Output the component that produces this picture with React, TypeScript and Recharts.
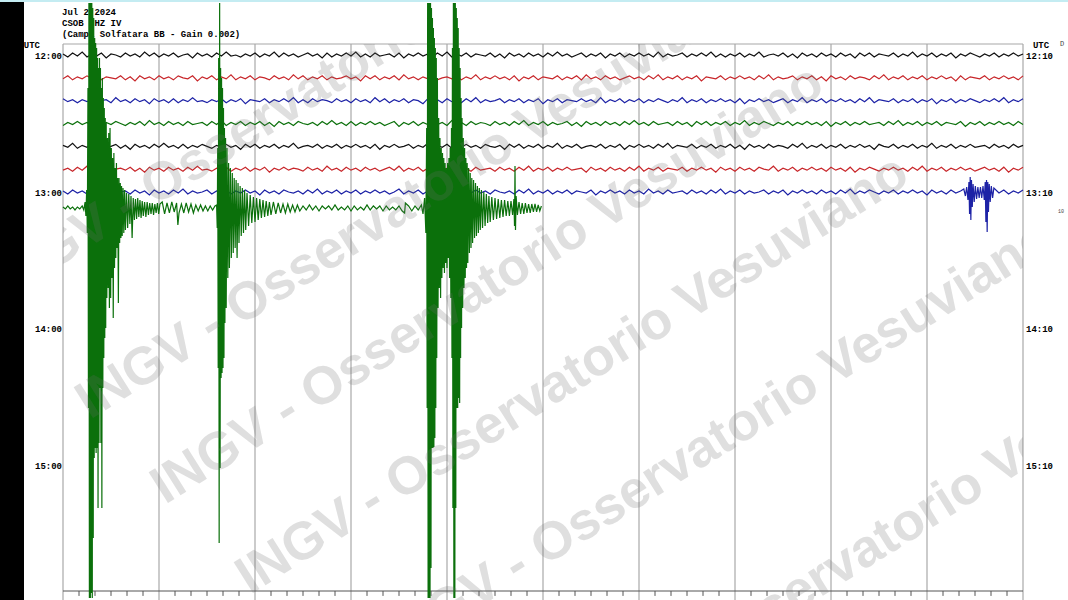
import React from "react";
import { LineChart, Line, XAxis, YAxis, ReferenceLine } from "recharts";

const W = 1068;
const H = 600;
const PX_PER_ROW = 22.833; // vertical gap between two 10-minute traces
const Y_DOMAIN: [number, number] = [-2.409, 23.869];
const NOISE_STEP = 3; // seconds between noise samples

const LABEL_ROWS = [0, 6, 12, 18];
const LEFT_LABELS = ["12:00", "13:00", "14:00", "15:00"];
const RIGHT_LABELS = ["12:10", "13:10", "14:10", "15:10"];
const HEADER = ["Jul 2 2024", "CSOB HHZ IV", "(Campi Solfatara BB - Gain 0.002)"];
const MINUTES = [0, 60, 120, 180, 240, 300, 360, 420, 480, 540, 600];
const ROW_BASE = [0, 1, 2, 3, 4, 5, 6, 6.7];
const ROW_COLORS = ["#111111", "#c8262a", "#1d22a6", "#0b700b", "#111111", "#c8262a", "#1d22a6", "#0b700b"];

// background noise for each full 10-minute trace, one sample every 3 s (amplitude, px up)
const ROW0 = [
  1, -2, 2, -1, 3, -2, 1, -1, 2, -3, 1, 0, -2, 2, -1, 1, -2, 3, -1, 2,
  -2, 1, -1, 2, -2, 0, 1, -3, 2, -1, 1, -2, 2, -1, 3, -1, 0, -2, 1, -1,
  2, -2, 1, -1, 3, -2, 2, -1, 1, -2, 0, 2, -1, 1, -3, 2, -2, 1, -1, 2,
  -1, 3, -2, 1, -2, 2, -1, 0, 1, -2, 2, -3, 1, -1, 2, -1, 1, -2, 2, -1,
  3, -2, 1, -1, 2, -2, 1, 0, -1, 2, -2, 1, -3, 2, -1, 1, -2, 2, -1, 1,
  -2, 2, -1, 3, -1, 1, -2, 0, 2, -2, 1, -1, 2, -3, 1, -1, 2, -2, 1, -1,
  2, -1, 1, -2, 3, -2, 1, -1, 0, 2, -2, 1, -1, 2, -1, 3, -2, 1, -2, 1,
  -1, 2, -2, 1, -1, 3, -2, 0, 1, -1, 2, -2, 1, -3, 2, -1, 1, -2, 2, -1,
  1, -2, 2, -1, 1, -3, 2, -1, 2, -2, 1, 0, -1, 2, -2, 1, -1, 3, -2, 1,
  -1, 2, -2, 1, -1, 2, -3, 1, -1, 2, 0, -2, 1, -1, 2, -2, 1, -1, 2, -1,
  1,
];
const ROW1 = [
  -1, 2, -2, 1, -1, 2, -1, 3, -2, 1, 0, -1, 2, -2, 1, -3, 2, -1, 1, -2,
  2, -1, 1, -2, 2, 0, -1, 2, -3, 1, -1, 2, -2, 1, -1, 3, -2, 1, -1, 2,
  -2, 1, 0, -2, 2, -1, 1, -2, 3, -1, 2, -2, 1, -1, 2, -2, 1, -1, 0, 2,
  -1, 1, -3, 2, -1, 2, -2, 1, -1, 2, -2, 3, -1, 1, -2, 1, -1, 2, -2, 0,
  1, -1, 2, -2, 1, -1, 3, -2, 1, -1, 2, -1, 1, -2, 2, -3, 1, -1, 2, -2,
  1, 0, -1, 2, -2, 1, -1, 2, -2, 3, -1, 1, -2, 2, -1, 1, -2, 0, 2, -1,
  1, -2, 2, -1, 3, -2, 1, -1, 2, -2, 1, -1, 2, -3, 1, 0, -1, 2, -2, 1,
  -1, 2, -1, 1, -2, 2, -1, 3, -2, 1, -1, 0, 2, -2, 1, -1, 2, -2, 1, -3,
  2, -1, 1, -2, 2, -1, 1, 0, -2, 2, -1, 3, -2, 1, -1, 2, -2, 1, -1, 2,
  -2, 1, -1, 2, -1, 1, -3, 2, -2, 1, 0, -1, 2, -2, 1, -1, 2, -1, 1, -2,
  2,
];
const ROW2 = [
  2, -1, 1, -2, 1, -1, 2, -2, 0, 1, -2, 3, -1, 1, -2, 2, -1, 1, -3, 2,
  -1, 1, -2, 2, -2, 1, -1, 3, -1, 0, -2, 1, -1, 2, -2, 1, -1, 2, -3, 1,
  0, -1, 2, -2, 1, -1, 2, -1, 3, -2, 1, -2, 2, -1, 1, 0, -2, 2, -1, 1,
  -2, 2, -1, 1, -2, 3, -1, 2, -2, 1, -1, 2, -2, 1, 0, -3, 2, -1, 1, -2,
  2, -1, 1, -2, 2, -1, 3, -2, 1, -1, 0, 2, -2, 1, -1, 2, -2, 1, -1, 2,
  -3, 1, -1, 2, -2, 1, 0, -1, 2, -1, 1, -2, 3, -2, 1, -1, 2, -2, 1, -1,
  2, -2, 1, -1, 2, 0, -2, 1, -1, 3, -2, 1, -1, 2, -2, 1, -1, 2, -1, 1,
  -2, 2, -3, 1, -1, 2, -1, 1, -2, 0, 2, -2, 1, -1, 3, -2, 1, -1, 2, -2,
  1, -1, 2, -1, 1, -2, 2, -1, 3, -2, 1, 0, -1, 2, -2, 1, -1, 2, -2, 1,
  -1, 2, -3, 1, -1, 2, -2, 1, -1, 2, 0, -2, 1, -1, 2, -1, 3, -2, 1, -1,
  2,
];
const ROW3 = [
  -2, 1, -1, 2, -1, 1, -2, 2, -3, 1, -1, 2, 0, -2, 1, -1, 2, -2, 3, -1,
  1, -2, 2, -1, 1, -2, 2, -1, 0, 1, -2, 2, -1, 3, -2, 1, -1, 2, -2, 1,
  -1, 2, -2, 1, -3, 2, -1, 1, -2, 2, 0, -1, 1, -2, 2, -1, 3, -1, 1, -2,
  2, -2, 1, -1, 2, -1, 1, -2, 0, 2, -3, 1, -1, 2, -2, 1, -1, 2, -1, 1,
  -2, 3, -1, 1, -2, 2, -1, 1, 0, -2, 2, -1, 1, -2, 2, -1, 3, -2, 1, -1,
  2, -2, 1, -1, 0, 2, -2, 1, -3, 2, -1, 1, -2, 2, -1, 1, -2, 2, -1, 3,
  -1, 1, -2, 2, -1, 0, 1, -2, 2, -1, 1, -3, 2, -1, 2, -2, 1, -1, 2, -2,
  1, -1, 3, -2, 1, -1, 2, 0, -2, 1, -1, 2, -2, 1, -1, 2, -1, 1, -2, 2,
  -3, 1, -1, 2, -2, 1, -1, 2, -1, 0, 1, -2, 2, -1, 3, -2, 1, -1, 2, -2,
  1, -1, 2, -2, 1, 0, -1, 2, -3, 1, -1, 2, -2, 1, -1, 2, -1, 1, -2, 2,
  -1,
];
const ROW4 = [
  1, -1, 3, -2, 1, -1, 2, -2, 1, -1, 0, 2, -2, 1, -3, 2, -1, 1, -2, 2,
  -1, 3, -1, 1, -2, 2, -2, 1, -1, 2, 0, -2, 1, -1, 2, -1, 1, -3, 2, -1,
  2, -2, 1, -1, 2, -2, 1, -1, 3, -2, 0, 1, -1, 2, -2, 1, -1, 2, -2, 1,
  -1, 2, -1, 1, -2, 2, -3, 1, -1, 2, -1, 0, 2, -2, 1, -1, 3, -2, 1, -1,
  2, -2, 1, -1, 2, -1, 1, -2, 2, 0, -1, 1, -3, 2, -1, 2, -2, 1, -1, 2,
  -2, 1, -1, 3, -2, 1, -1, 2, -2, 0, 1, -1, 2, -2, 1, -1, 2, -3, 1, -1,
  2, -1, 1, -2, 2, -1, 3, -2, 1, 0, -1, 2, -2, 1, -1, 2, -2, 1, -1, 2,
  -2, 1, -3, 2, -1, 1, -2, 2, -1, 1, 0, -2, 2, -1, 3, -2, 1, -1, 2, -2,
  1, -1, 2, -2, 1, -1, 2, -1, 1, -3, 2, 0, -1, 2, -2, 1, -1, 2, -2, 1,
  -1, 3, -2, 1, -1, 2, -2, 1, -1, 2, -1, 0, 1, -2, 2, -1, 1, -2, 2, -1,
  1,
];
const ROW5 = [
  -1, 1, -2, 2, -1, 3, -2, 1, -1, 2, -2, 0, 1, -1, 2, -2, 1, -3, 2, -1,
  1, -2, 2, -1, 1, -2, 2, -1, 3, -1, 0, -2, 1, -1, 2, -2, 1, -1, 2, -2,
  1, -1, 2, -3, 1, -1, 2, -1, 1, 0, -2, 2, -1, 1, -2, 3, -1, 1, -2, 2,
  -1, 1, -2, 2, -1, 1, -2, 0, 2, -1, 3, -2, 1, -1, 2, -2, 1, -1, 2, -2,
  1, -3, 2, -1, 1, -2, 2, -1, 0, 1, -2, 2, -1, 1, -2, 2, -1, 3, -2, 1,
  -1, 2, -2, 1, -1, 2, -1, 0, 1, -3, 2, -1, 1, -2, 2, -1, 1, -2, 2, -1,
  3, -2, 1, -1, 2, -2, 1, 0, -1, 2, -2, 1, -1, 2, -1, 1, -3, 2, -1, 1,
  -2, 2, -1, 1, -2, 2, 0, -1, 3, -2, 1, -1, 2, -2, 1, -1, 2, -1, 1, -2,
  2, -1, 1, -2, 2, -3, 1, -1, 2, 0, -2, 1, -1, 2, -1, 1, -2, 2, -1, 3,
  -2, 1, -1, 2, -2, 1, -1, 2, -1, 1, -2, 0, 2, -1, 1, -2, 2, -3, 1, -1,
  2,
];
const ROW6 = [
  1, -2, 2, -1, 1, -2, 3, -1, 1, -2, 2, -1, 0, 1, -2, 2, -1, 1, -3, 2,
  -1, 1, -2, 2, -1, 3, -2, 1, -1, 0, 2, -2, 1, -1, 2, -2, 1, -1, 2, -1,
  1, -3, 2, -1, 1, -2, 2, 0, -1, 1, -2, 2, -1, 3, -2, 1, -1, 2, -2, 1,
  -1, 2, -2, 1, -1, 2, -1, 1, -2, 0, 3, -2, 1, -1, 2, -2, 1, -1, 2, -1,
  1, -2, 2, -3, 1, -1, 2, -1, 1, -2, 2, 0, -1, 1, -2, 2, -1, 3, -2, 1,
  -1, 2, -2, 1, -1, 2, -2, 1, 0, -1, 2, -3, 1, -1, 2, -1, 1, -2, 2, -1,
  1, -2, 3, -1, 1, -2, 2, -1, 0, 1, -2, 2, -1, 1, -2, 2, -1, 3, -2, 1,
  -1, 2, -2, 1, -1, 0, 2, -2, 1, -1, 2, -3, 1, -1, 2, -1, 1, -2, 2, -1,
  1, -2, 2, -1, 3, -2, 1, -1, 2, 0, -2, 1, -1, 2, -2, 1, -1, 2, -1, 1,
  -3, 2, -1, 1, -2, 2, -1, 1, -2, 2, 0, -1, 3, -2, 1, -1, 2, -2, 1, -1,
  2,
];

// small local event at the end of the 13:00 trace: [seconds, amplitude]
const ROW6_EVENT: [number, number][] = [
  [563, 3], [564, -4], [564.8, 5], [565.6, -8], [566.2, 10], [566.6, -22], [567, 15], [567.4, -28],
  [567.8, 12], [568.3, -15], [568.8, 8], [569.5, -10], [570.2, 6], [571, -7], [571.8, 5], [572.6, -6],
  [573.4, 5], [574.2, -6], [575, 6], [575.8, -8], [576.4, 10], [576.8, -30], [577.2, 12], [577.6, -40],
  [578, 10], [578.4, -20], [578.9, 8], [579.5, -10], [580.2, 6], [581, -6], [581.8, 4],
];

// 13:10 trace (still recording, ends near 5 min) with the four large events: [seconds, amplitude]
const ROW7: [number, number][] = [
  [0, 1], [1.5, -1], [3, 2], [4.5, -1], [6, 1], [7.5, -2], [9, 1], [10.5, -1], [12, 2], [13, -2],
  [13.8, 6], [14.3, -8], [14.8, 18], [15.2, -25],
  [15.6, 120], [15.9, -200], [16.2, 205], [16.5, -390], [16.8, 205], [17.1, -390], [17.4, 205], [17.7, -385],
  [18.0, 205], [18.3, -390], [18.6, 200], [18.9, -330], [19.2, 190], [19.5, -250], [19.8, 170], [20.1, -240],
  [20.4, 165], [20.7, -245], [21.0, 160], [21.3, -240], [21.6, 150], [21.9, -300], [22.2, 140], [22.5, -235],
  [22.8, 150], [23.1, -180], [23.4, 140], [23.7, -235], [24.0, 120], [24.3, -300], [24.6, 130], [24.9, -180],
  [25.2, 110], [25.5, -150], [25.8, 100], [26.1, -130], [26.4, 90], [26.7, -120],
  [27.0, 85], [27.4, -90], [27.8, 70], [28.2, -80], [28.6, 75], [29.0, -100], [29.4, 80], [29.8, -90],
  [30.2, 60], [30.6, -70], [31.0, 50], [31.4, -110], [31.8, 55], [32.2, -60], [32.6, 40], [33.0, -50],
  [33.4, 45], [33.8, -40], [34.2, 30], [34.6, -95], [35.0, 30], [35.4, -35], [35.8, 25], [36.2, -30],
  [36.6, 22], [37.0, -28], [37.5, 20], [38.0, -25], [38.5, 18], [39.0, -22],
  [39.7, 15], [40.4, -20], [41.1, 14], [41.8, -16], [42.5, 12], [43.2, -30], [43.9, 10], [44.6, -12],
  [45.3, 9], [46, -11], [46.7, 10], [47.4, -9], [48.1, 8], [48.8, -10], [49.5, 7], [50.2, -8],
  [51, 6], [51.8, -9], [52.6, 6], [53.4, -7], [54.2, 5], [55, -6], [55.8, 5], [56.6, -7],
  [57.4, 4], [58.2, -5], [59, 5], [59.8, -6], [60.6, 4],
  [62, 6], [63.5, -6], [65, 5], [66.5, -5], [68, 6], [69.5, -4], [71, 5], [71.8, -17], [72.5, -5], [74, 4],
  [75.5, -5], [77, 5], [78.5, -4], [80, 4], [81.5, -5], [83, 3], [84.5, -3], [86, 3], [87.5, -3], [89, 2],
  [90.5, -3], [92, 2], [93.5, -2], [95, 2],
  [96, 3], [96.4, -20], [96.7, 60], [97.0, -160], [97.3, 150], [97.6, -335], [97.9, 205], [98.2, -260],
  [98.5, 140], [98.8, -170], [99.1, 130], [99.4, -165], [99.7, 120], [100.0, -160], [100.3, 100], [100.6, -150],
  [100.9, 80], [101.2, -115], [101.6, 70], [102.0, -100], [102.5, 60], [103, -70],
  [103.5, 45], [104, -60], [104.6, 40], [105.2, -50], [105.8, 35], [106.4, -45], [107, 30], [107.6, -40],
  [108.2, 28], [108.8, -50], [109.4, 25], [110, -35], [110.7, 22], [111.4, -28], [112.1, 20], [112.8, -25],
  [113.5, 18], [114.2, -22], [115, 15], [116, -18], [117, 13], [118, -15], [119, 11], [120, -14],
  [121, 10], [122, -12], [123, 9], [124, -10], [125, 8], [126, -9], [127, 7], [128, -8],
  [129, 6], [130, -7], [131.5, 6], [133, -6], [134.5, 5], [136, -5], [137.5, 4], [139, -5],
  [140.5, 4], [142, -4], [143.5, 3], [145, -4], [146.5, 3], [148, -3],
  [150, 2], [152, -2], [154, 3], [156, -2], [158, 2], [160, -3], [162, 2], [164, -1], [166, 2], [168, -2],
  [170, 3], [172, -2], [174, 1], [176, -2], [178, 2], [180, -3], [182, 2], [184, -2], [186, 1], [188, -2],
  [190, 3], [192, -2], [194, 2], [196, -1], [198, 2], [200, -3], [202, 2], [204, -2], [206, 1], [208, -2],
  [210, 2], [212, -3], [213.5, -5], [214, 5], [216, 2], [218, -3], [220, 2], [222, -2], [224, 3],
  [225, -6], [226, 10], [226.8, -25], [227.3, 80], [227.6, -200], [227.9, 205], [228.2, -390], [228.5, 205],
  [228.8, -390], [229.1, 205], [229.4, -390], [229.7, 205], [230, -360], [230.3, 200], [230.6, -240], [230.9, 190],
  [231.2, -240], [231.5, 180], [231.8, -239], [232.1, 170], [232.4, -230], [232.7, 160], [233.0, -200], [233.3, 150],
  [233.6, -150], [234, 130], [234.4, -100],
  [234.8, 90], [235.2, -80], [235.6, 70], [236, -90], [236.4, 60], [236.8, -70], [237.2, 55], [237.6, -60],
  [238, 50], [238.4, -65], [238.8, 45], [239.2, -55], [239.6, 40], [240, -60], [240.4, 45], [240.8, -50],
  [241.2, 50], [241.6, -70], [242, 60], [242.4, -90], [242.8, 80],
  [243.1, -150], [243.4, 160], [243.7, -300], [244, 205], [244.3, -390], [244.6, 205], [244.9, -390], [245.2, 205],
  [245.5, -300], [245.8, 200], [246.1, -200], [246.4, 190], [246.7, -200], [247, 180], [247.3, -190], [247.6, 160],
  [247.9, -195], [248.2, 140], [248.5, -150], [248.8, 110], [249.1, -120], [249.4, 90],
  [249.8, -100], [250.2, 70], [250.6, -80], [251, 60], [251.4, -70], [251.8, 50], [252.2, -60], [252.6, 45],
  [253, -55], [253.5, 40], [254, -45], [254.5, 35], [255, -40], [255.5, 30], [256, -35], [256.6, 28],
  [257.2, -30], [257.8, 25], [258.4, -28], [259, 22], [259.6, -25], [260.2, 20], [260.8, -22], [261.5, 18],
  [262.2, -20], [263, 16], [263.8, -18], [264.6, 14], [265.4, -15], [266.2, 12], [267, -14], [268, 11],
  [269, -12], [270, 10], [271, -11], [272, 9], [273, -10], [274, 8], [275, -9], [276, 8],
  [277, -8], [278, 7], [279, -8], [280, 7], [281, -7], [281.8, 9], [282.2, -18], [282.5, 42],
  [282.8, -22], [283.2, 12], [284, -7], [285, 6], [286, -6], [287, 5], [288, -6], [289, 5],
  [290, -5], [291, 4], [292, -5], [293, 4], [294, -4], [295, 4], [296, -4], [297, 3], [298, -3], [299, 2],
];

const FULL_ROWS = [ROW0, ROW1, ROW2, ROW3, ROW4, ROW5, ROW6];
const SUB_TICKS = Array.from({ length: 61 }, (_, i) => i * 10).filter((s) => s % 60 !== 0);
const TOP_ROW = -0.482; // frame top
const AXIS_ROW = 23.475; // bottom time axis
const TICK_END = 23.69;

// watermark copies: baseline start point of each diagonal line (clipped to the frame)
const WATERMARKS: [number, number][] = [
  [5, 300],
  [90, 420],
  [165, 505],
  [250, 595],
  [395, 660],
  [560, 760],
];

type Pt = { t: number; y: number };

function toPoint(base: number, t: number, amp: number): Pt {
  return { t, y: base - amp / PX_PER_ROW };
}

function buildTraces(): Pt[][] {
  const traces = FULL_ROWS.map((vals, r) => {
    let pts = vals.map((a, i) => toPoint(ROW_BASE[r], i * NOISE_STEP, a));
    if (r === 6) {
      pts = pts.filter((p) => p.t < 562.5 || p.t > 582);
      pts = pts.concat(ROW6_EVENT.map(([t, a]) => toPoint(ROW_BASE[6], t, a)));
      pts.sort((a, b) => a.t - b.t);
    }
    return pts;
  });
  traces.push(ROW7.map(([t, a]) => toPoint(ROW_BASE[7], t, a)));
  return traces;
}

// keeps the right-hand axis alive (it has no trace of its own)
const RIGHT_ANCHOR = LABEL_ROWS.map((r) => ({ t: 0, y: r }));

const labelFont = "'Liberation Mono', 'DejaVu Sans Mono', monospace";

function LeftTick(props: any) {
  const { y, payload } = props;
  if (payload.value < 0) {
    return (
      <text x={40} y={y} dy={3} textAnchor="end" fontFamily={labelFont} fontSize={9} fontWeight="bold" fill="#000">
        UTC
      </text>
    );
  }
  const idx = LABEL_ROWS.indexOf(payload.value);
  return (
    <text x={62} y={y} dy={3.5} textAnchor="end" fontFamily={labelFont} fontSize={9} fontWeight="bold" fill="#000">
      {LEFT_LABELS[idx]}
    </text>
  );
}

function RightTick(props: any) {
  const { y, payload } = props;
  if (payload.value < 0) {
    return (
      <text x={1041} y={y} dy={3} textAnchor="middle" fontFamily={labelFont} fontSize={9} fontWeight="bold" fill="#000">
        UTC
      </text>
    );
  }
  const idx = LABEL_ROWS.indexOf(payload.value);
  return (
    <text x={1026} y={y} dy={3.5} textAnchor="start" fontFamily={labelFont} fontSize={9} fontWeight="bold" fill="#000">
      {RIGHT_LABELS[idx]}
    </text>
  );
}

export default function App() {
  const traces = React.useMemo(buildTraces, []);
  const ticks = [-0.45, ...LABEL_ROWS];

  return (
    <div style={{ position: "fixed", left: 0, top: 0, width: W, height: H, background: "#fff", overflow: "hidden" }}>
      <div
        style={{
          position: "absolute",
          left: 62,
          top: 8,
          fontFamily: labelFont,
          fontSize: 9,
          fontWeight: "bold",
          lineHeight: "11px",
          color: "#000",
          whiteSpace: "pre",
        }}
      >
        {HEADER.map((h) => (
          <div key={h}>{h}</div>
        ))}
      </div>

      <div style={{ position: "absolute", left: 0, top: 0 }}>
        <LineChart width={W} height={H} margin={{ top: 0, right: 0, bottom: 0, left: 0 }}>
          <XAxis type="number" dataKey="t" domain={[0, 600]} hide />
          <YAxis
            yAxisId="L"
            type="number"
            domain={Y_DOMAIN}
            reversed
            width={63}
            ticks={ticks}
            interval={0}
            axisLine={false}
            tickLine={false}
            tick={(p: any) => <LeftTick {...p} />}
          />
          <YAxis
            yAxisId="R"
            orientation="right"
            type="number"
            domain={Y_DOMAIN}
            reversed
            width={45}
            ticks={ticks}
            interval={0}
            axisLine={false}
            tickLine={false}
            tick={(p: any) => <RightTick {...p} />}
          />

          {MINUTES.map((m) => (
            <ReferenceLine
              key={`m${m}`}
              yAxisId="L"
              segment={[{ x: m, y: TOP_ROW }, { x: m, y: Y_DOMAIN[1] }]}
              stroke="#a8a8a8"
              strokeWidth={1.2}
            />
          ))}
          <ReferenceLine yAxisId="L" segment={[{ x: 0, y: TOP_ROW }, { x: 600, y: TOP_ROW }]} stroke="#a8a8a8" strokeWidth={1.2} />
          <ReferenceLine yAxisId="L" segment={[{ x: 0, y: AXIS_ROW }, { x: 600, y: AXIS_ROW }]} stroke="#555" strokeWidth={1} />
          {SUB_TICKS.map((s) => (
            <ReferenceLine
              key={`s${s}`}
              yAxisId="L"
              segment={[{ x: s, y: AXIS_ROW }, { x: s, y: TICK_END }]}
              stroke="#555"
              strokeWidth={1}
            />
          ))}

          <Line
            yAxisId="R"
            data={RIGHT_ANCHOR}
            dataKey="y"
            stroke="none"
            dot={false}
            activeDot={false}
            isAnimationActive={false}
          />
          {traces.map((pts, i) => (
            <Line
              key={i}
              yAxisId="L"
              data={pts}
              dataKey="y"
              type="linear"
              stroke={ROW_COLORS[i]}
              strokeWidth={1.2}
              dot={false}
              activeDot={false}
              isAnimationActive={false}
            />
          ))}
        </LineChart>
      </div>

      <svg width={W} height={H} style={{ position: "absolute", left: 0, top: 0, pointerEvents: "none" }}>
        <defs>
          <clipPath id="frameClip">
            <rect x={63} y={44} width={960} height={556} />
          </clipPath>
        </defs>
        <g clipPath="url(#frameClip)">
          {WATERMARKS.map(([x, y], i) => (
            <text
              key={i}
              x={x}
              y={y}
              transform={`rotate(-32 ${x} ${y})`}
              fontFamily="'Liberation Sans', Arial, sans-serif"
              fontWeight="bold"
              fontSize={53}
              fill="rgba(110,110,110,0.22)"
            >
              INGV - Osservatorio Vesuviano
            </text>
          ))}
        </g>
      </svg>

      <div style={{ position: "absolute", left: 0, top: 0, width: 24, height: H, background: "#000" }} />
      <div style={{ position: "absolute", left: 0, top: 0, width: W, height: 2, background: "#c4ecf2" }} />
      <div style={{ position: "absolute", left: 1060, top: 40, fontFamily: labelFont, fontSize: 7, color: "#444" }}>D</div>
      <div style={{ position: "absolute", left: 1058, top: 209, fontFamily: labelFont, fontSize: 5, color: "#444" }}>10</div>
    </div>
  );
}
